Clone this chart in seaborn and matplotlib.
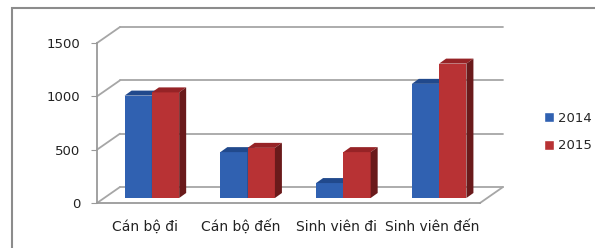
import pandas as pd
import seaborn as sns
import matplotlib.pyplot as plt
from matplotlib.patches import Polygon, Rectangle
from matplotlib.lines import Line2D
from matplotlib.transforms import ScaledTranslation

# data
categories = ["Cán bộ đi", "Cán bộ đến", "Sinh viên đi", "Sinh viên đến"]
years = ["2014", "2015"]
values_2014 = [960, 430, 140, 1070]
values_2015 = [990, 470, 430, 1260]
yticks = [0, 500, 1000, 1500]

front = {"2014": "#3061b1", "2015": "#b83234"}
top = {"2014": "#21498c", "2015": "#962326"}
side = {"2014": "#1c3766", "2015": "#6a1a1b"}

df = pd.DataFrame({
    "cat": categories * 2,
    "year": [years[0]] * 4 + [years[1]] * 4,
    "value": values_2014 + values_2015,
})

sns.set_style("white")
plt.rcParams['font.family'] = ['DejaVu Sans']

W, H = 595, 248
fig = plt.figure(figsize=(W / 100, H / 100), dpi=100)
ax = fig.add_axes([97 / W, 1 - 203 / H, (480 - 97) / W, (203 - 43) / H])

sns.barplot(data=df, x="cat", y="value", hue="year", palette=front,
            width=0.57, saturation=1, legend=False, ax=ax)
ax.set_xlim(-0.5, 3.5)
ax.set_ylim(0, 1500)
ax.set_xlabel("")
ax.set_ylabel("")
ax.set_xticks(range(4))
ax.set_xticklabels(categories, fontsize=10, color="#222222")
ax.set_yticks(yticks)
ax.set_yticklabels([str(v) for v in yticks], fontsize=9.5, color="#222222")
ax.set_xticks([-0.5, 0.5, 1.5, 2.5, 3.5], minor=True)
ax.tick_params(axis="x", which="major", length=0, pad=12)
ax.tick_params(axis="x", which="minor", length=4, color="#999999", direction="out")
ax.tick_params(axis="y", length=4, color="#999999", direction="out", pad=8, left=True)
ax.grid(False)
for s in ["top", "right"]:
    ax.spines[s].set_visible(False)
for s in ["left", "bottom"]:
    ax.spines[s].set_color("#9a9a9a")
    ax.spines[s].set_linewidth(1.3)
ax.patch.set_alpha(0)

inch = fig.dpi_scale_trans


def pix(x, y, dx=0, dy=0):
    X, Y = ax.transData.transform((x, y))
    return ((X + dx) / fig.dpi, (Y + dy) / fig.dpi)


# back wall, side wall and floor (oblique 3D look)
bdx, bdy = 23, 16
back_off = ScaledTranslation(bdx / 100, bdy / 100, inch)
for v in yticks:
    ax.add_artist(Line2D([-0.5, 3.5], [v, v], transform=ax.transData + back_off,
                         color="#a6a6a6", lw=1.3, zorder=0.5, clip_on=False))
    p0, p1 = pix(-0.5, v), pix(-0.5, v, bdx, bdy)
    ax.add_artist(Line2D([p0[0], p1[0]], [p0[1], p1[1]], transform=inch,
                         color="#a6a6a6", lw=1.3, zorder=0.5, clip_on=False))
p0, p1 = pix(3.5, 0), pix(3.5, 0, bdx, bdy)
ax.add_artist(Line2D([p0[0], p1[0]], [p0[1], p1[1]], transform=inch,
                     color="#a6a6a6", lw=1.3, zorder=0.5, clip_on=False))

# bars pushed into the depth, with top and side faces
odx, ody = 7, 5
ddx, ddy = 7, 5
bar_off = ScaledTranslation(odx / 100, ody / 100, inch)
bars = sorted(ax.patches, key=lambda p: p.get_x())
for i, p in enumerate(bars):
    yr = years[0] if abs(p.get_facecolor()[0] - 0x30 / 255) < 0.05 else years[1]
    x0, w, h = p.get_x(), p.get_width(), p.get_height()
    p.set_transform(ax.transData + bar_off)
    p.set_edgecolor("none")
    p.set_zorder(2 + i)
    p.set_clip_on(False)
    tl = pix(x0, h, odx, ody)
    tr = pix(x0 + w, h, odx, ody)
    br = pix(x0 + w, 0, odx, ody)
    sh = lambda q: (q[0] + ddx / 100, q[1] + ddy / 100)
    ax.add_artist(Polygon([tl, tr, sh(tr), sh(tl)], closed=True, transform=inch,
                          facecolor=top[yr], edgecolor="none", zorder=2 + i, clip_on=False))
    ax.add_artist(Polygon([tr, br, sh(br), sh(tr)], closed=True, transform=inch,
                          facecolor=side[yr], edgecolor="none", zorder=2 + i, clip_on=False))

handles = [Rectangle((0, 0), 1, 1, facecolor=front[y]) for y in years]
fig.legend(handles, years, loc="center left", bbox_to_anchor=(532 / W, 1 - 132 / H),
           frameon=False, handlelength=0.8, handleheight=0.8, handletextpad=0.3,
           labelspacing=1.1, fontsize=9.5)

# outer chart frame
fig.add_artist(Rectangle((12 / W, -0.1), 1.2, 1 - 8 / H + 0.1, transform=fig.transFigure,
                         fill=False, edgecolor="#8c8c8c", lw=1.5))

fig.savefig("out.png", dpi=100)
